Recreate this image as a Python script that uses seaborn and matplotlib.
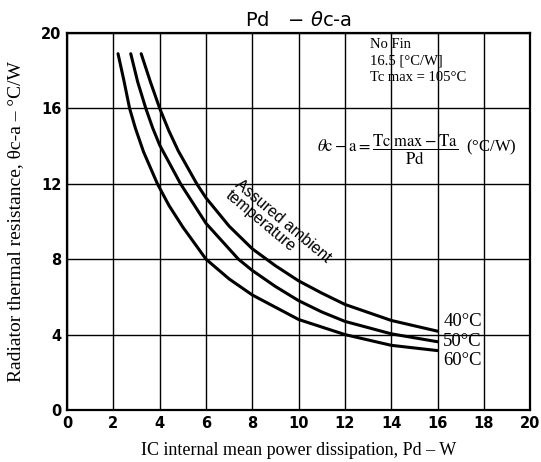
import numpy as np
import pandas as pd
import seaborn as sns
import matplotlib.pyplot as plt


# values (Pd in W, theta c-a in degC/W)
pd_40 = [3.2, 3.6, 4.0, 4.4, 4.8, 5.6, 6.0, 7.0, 8.0, 9.0, 10.0, 11.0, 12.0, 14.0, 16.0]
theta_40 = [18.9, 17.4, 16.0, 14.8, 13.75, 12.0, 11.25, 9.75, 8.55, 7.65, 6.85, 6.2, 5.6, 4.75, 4.18]

pd_50 = [2.75, 3.05, 3.4, 3.7, 4.0, 4.9, 6.0, 7.4, 8.0, 9.0, 10.0, 11.0, 12.0, 14.0, 16.0]
theta_50 = [18.9, 17.4, 16.0, 14.95, 14.05, 12.0, 9.9, 8.0, 7.4, 6.55, 5.8, 5.2, 4.7, 4.04, 3.62]

pd_60 = [2.2, 2.45, 2.7, 2.95, 3.3, 3.9, 4.4, 5.0, 6.0, 7.0, 8.0, 10.0, 12.0, 14.0, 16.0]
theta_60 = [18.9, 17.5, 16.0, 14.95, 13.7, 12.0, 10.85, 9.7, 8.0, 6.95, 6.1, 4.8, 4.0, 3.43, 3.15]

ambient = ["40°C", "50°C", "60°C"]
x_ticks = [0, 2, 4, 6, 8, 10, 12, 14, 16, 18, 20]
y_ticks = [0, 4, 8, 12, 16, 20]

df = pd.concat([
    pd.DataFrame({"Pd": pd_40, "theta": theta_40, "Ta": ambient[0]}),
    pd.DataFrame({"Pd": pd_50, "theta": theta_50, "Ta": ambient[1]}),
    pd.DataFrame({"Pd": pd_60, "theta": theta_60, "Ta": ambient[2]}),
], ignore_index=True)

sns.set_theme(style="white")
plt.rcParams["font.family"] = ["Liberation Serif", "DejaVu Serif"]
plt.rcParams["text.color"] = "black"
plt.rcParams["axes.labelcolor"] = "black"
plt.rcParams["xtick.color"] = "black"
plt.rcParams["ytick.color"] = "black"

fig = plt.figure(figsize=(5.41, 4.62), dpi=100)
ax = fig.add_axes([0.124, 0.1126, 0.856, 0.816])

sns.lineplot(data=df, x="Pd", y="theta", hue="Ta", sort=False,
             palette=["black"] * 3, linewidth=2.2, legend=False, ax=ax)

ax.set_xlim(0, 20)
ax.set_ylim(0, 20)
ax.set_xticks(x_ticks)
ax.set_yticks(y_ticks)
ax.grid(True, color="black", linewidth=1.0)
for spine in ax.spines.values():
    spine.set_color("black")
    spine.set_linewidth(1.6)

tick_font = ["Liberation Sans Narrow", "DejaVu Sans"]
ax.tick_params(axis="both", length=0, pad=4)
for lab in ax.get_xticklabels() + ax.get_yticklabels():
    lab.set_family(tick_font)
    lab.set_fontweight("bold")
    lab.set_fontsize(10.5)

ax.set_xlabel("IC internal mean power dissipation, Pd – W", fontsize=13, labelpad=8)
ax.set_ylabel("Radiator thermal resistance, θc-a – °C/W", fontsize=14, labelpad=12)
ax.set_title(r"Pd   − $\theta$c-a", fontsize=14, family=["DejaVu Sans"], pad=5)

# notes in the upper right corner
ax.text(13.1, 19.75, "No Fin\n16.5 [°C/W]\nTc max = 105°C", fontsize=10.5,
        ha="left", va="top", linespacing=1.35)
ax.text(15.1, 13.8,
        r"$\theta\mathrm{c} - \mathrm{a} = \dfrac{\mathrm{Tc\ max} - \mathrm{Ta}}{\mathrm{Pd}}$  (°C/W)",
        fontsize=12, ha="center", va="center", math_fontfamily="stix")

ax.text(9.1, 9.75, "Assured ambient\ntemperature", fontsize=11.5,
        family=["Liberation Sans", "DejaVu Sans"], rotation=-40,
        ha="center", va="center", multialignment="left",
        linespacing=0.95, rotation_mode="anchor")

# curve end labels
ends = [(pd_40[-1], theta_40[-1] + 0.5), (pd_50[-1], theta_50[-1]), (pd_60[-1], theta_60[-1] - 0.5)]
for (x, y), name in zip(ends, ambient):
    ax.text(x + 0.25, y, name, fontsize=13.5, ha="left", va="center")

fig.savefig("out.png", dpi=100)
